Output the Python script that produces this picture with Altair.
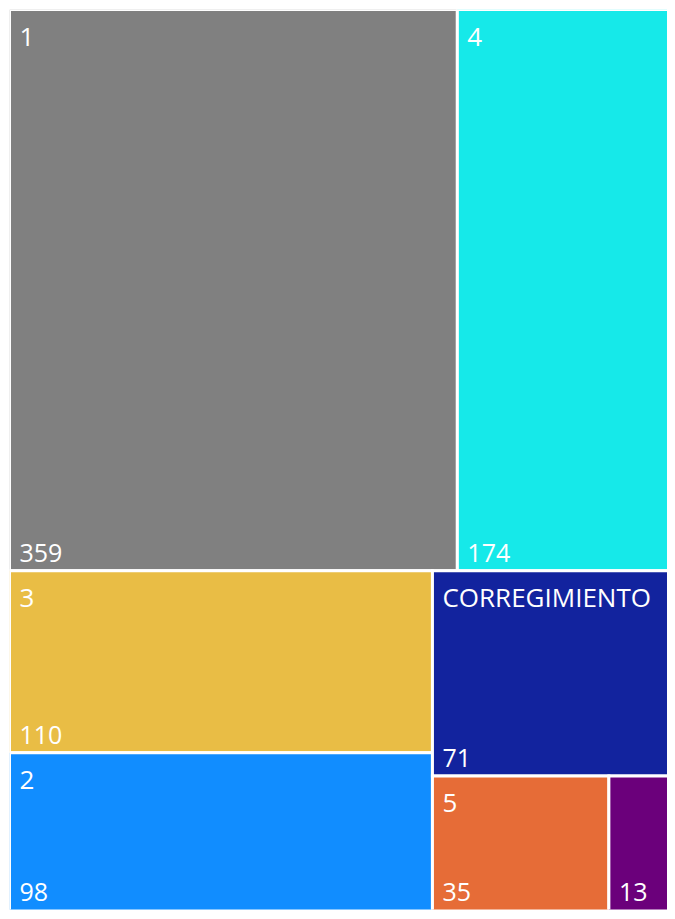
import altair as alt
import pandas as pd

categories = ["1", "4", "3", "2", "CORREGIMIENTO", "5", ""]
values = [359, 174, 110, 98, 71, 35, 13]
colors = ["#808080", "#16E9E9", "#E9BD45", "#118DFF", "#12239E", "#E66C37", "#6B007B"]

# full treemap size (it is cut by the window on the right and bottom)
W, H = 673, 915
VIS_W, VIS_H = 665.5, 909.5     # part of the treemap that is visible
PLOT_W, PLOT_H = 657.5, 900     # pixels available for it


def squarify(vals, x0, y0, x1, y1, ratio=(1 + 5 ** 0.5) / 2):
    """d3.treemapSquarify layout"""
    n = len(vals)
    out = [None] * n
    value = float(sum(vals))
    i0 = 0
    while i0 < n:
        dx, dy = x1 - x0, y1 - y0
        s = vals[i0]
        mn = mx = s
        alpha = max(dy / dx, dx / dy) / (value * ratio)
        beta = s * s * alpha
        min_ratio = max(mx / beta, beta / mn)
        i1 = i0 + 1
        while i1 < n:
            nv = vals[i1]
            s += nv
            mn, mx = min(mn, nv), max(mx, nv)
            beta = s * s * alpha
            new_ratio = max(mx / beta, beta / mn)
            if new_ratio > min_ratio:
                s -= nv
                break
            min_ratio = new_ratio
            i1 += 1
        if dx < dy:
            yy = y0 + dy * s / value
            xs = x0
            for i in range(i0, i1):
                w = dx * vals[i] / s
                out[i] = (xs, y0, xs + w, yy)
                xs += w
            y0 = yy
        else:
            xx = x0 + dx * s / value
            ys = y0
            for i in range(i0, i1):
                h = dy * vals[i] / s
                out[i] = (x0, ys, xx, ys + h)
                ys += h
            x0 = xx
        value -= s
        i0 = i1
    return out


rects = squarify(values, 0, 0, W, H)
df = pd.DataFrame({
    "cat": categories,
    "val": values,
    "x0": [r[0] for r in rects],
    "y0": [r[1] for r in rects],
    "x1": [r[2] for r in rects],
    "y1": [r[3] for r in rects],
})
# value labels sit at the visible bottom of each tile
df["ylab"] = df["y1"].clip(upper=VIS_H)

xs = alt.Scale(domain=[0, VIS_W], nice=False, zero=False)
ys = alt.Scale(domain=[0, VIS_H], nice=False, zero=False, reverse=True)

base = alt.Chart(df)

tiles = base.mark_rect(stroke="white", strokeWidth=3, clip=True).encode(
    x=alt.X("x0:Q", scale=xs, axis=None),
    x2="x1:Q",
    y=alt.Y("y0:Q", scale=ys, axis=None),
    y2="y1:Q",
    color=alt.Color("cat:N", scale=alt.Scale(domain=categories, range=colors), legend=None),
)

FONT = "Open Sans"
FS = 26

names = base.mark_text(align="left", baseline="alphabetic", dx=10, dy=36,
                       color="white", font=FONT, fontSize=FS).encode(
    x=alt.X("x0:Q", scale=xs, axis=None),
    y=alt.Y("y0:Q", scale=ys, axis=None),
    text="cat:N",
)

nums = base.mark_text(align="left", baseline="alphabetic", dx=10, dy=-9,
                      color="white", font=FONT, fontSize=FS - 1).encode(
    x=alt.X("x0:Q", scale=xs, axis=None),
    y=alt.Y("ylab:Q", scale=ys, axis=None),
    text="val:Q",
)

chart = alt.layer(tiles, names, nums).properties(
    width=PLOT_W, height=PLOT_H,
    padding={"left": 1.5, "top": 1.5, "right": 0, "bottom": 0},
    background="white",
).configure_view(stroke=None)

chart.save("out.html", embed_options={"renderer": "svg", "actions": False})
